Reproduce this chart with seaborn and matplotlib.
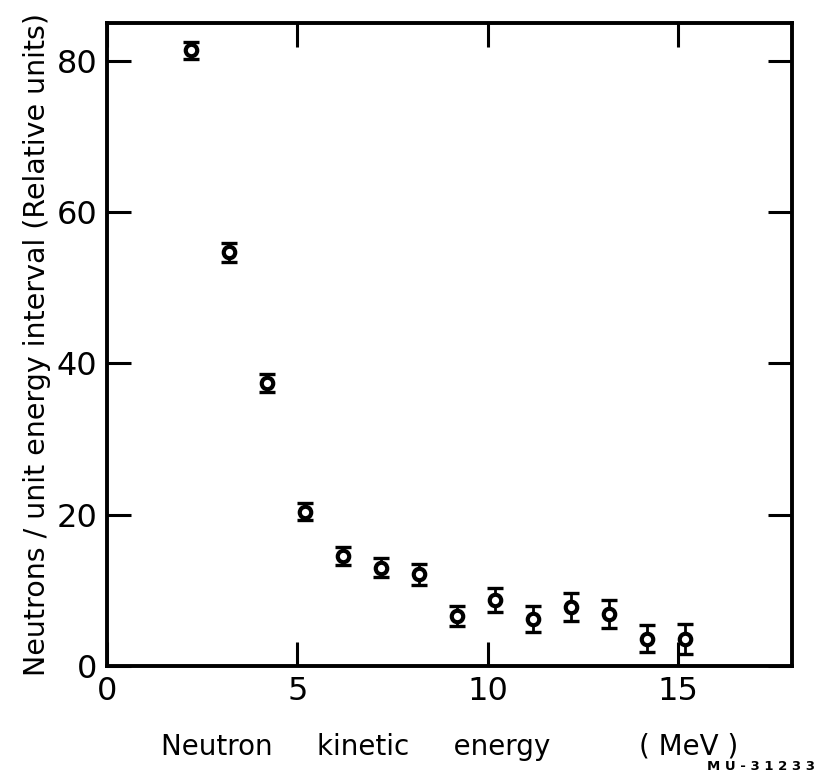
import matplotlib
matplotlib.use("Agg")
import matplotlib.pyplot as plt
import seaborn as sns
import pandas as pd

energy = [2.2, 3.2, 4.2, 5.2, 6.2, 7.2, 8.2, 9.2, 10.2, 11.2, 12.2, 13.2, 14.2, 15.2]
neutrons = [81.4, 54.7, 37.4, 20.4, 14.5, 13.0, 12.1, 6.6, 8.7, 6.2, 7.8, 6.9, 3.6, 3.6]
errors = [1.1, 1.25, 1.2, 1.1, 1.2, 1.3, 1.4, 1.35, 1.6, 1.7, 1.8, 1.85, 1.8, 2.0]
xticks = [0, 5, 10, 15]
yticks = [0, 20, 40, 60, 80]

df = pd.DataFrame({"energy": energy, "neutrons": neutrons, "err": errors})

sns.set_theme(style="ticks")
plt.rcParams['font.family'] = ['DejaVu Sans']

fig = plt.figure(figsize=(8.21, 7.79), dpi=100)
ax = fig.add_axes([0.1303, 0.1451, 0.8344, 0.8254])

ax.errorbar(df["energy"], df["neutrons"], yerr=df["err"], fmt="none",
            ecolor="black", elinewidth=2.0, capsize=5.5, capthick=2.4, zorder=2)
sns.scatterplot(data=df, x="energy", y="neutrons", ax=ax, marker="o", s=68,
                facecolor="white", edgecolor="black", linewidth=3.0, zorder=3,
                legend=False)

ax.set_xlim(0, 18)
ax.set_ylim(0, 85)
ax.set_xticks(xticks)
ax.set_yticks(yticks)
ax.set_xticklabels([str(t) for t in xticks], fontsize=23)
ax.set_yticklabels([str(t) for t in yticks], fontsize=23)
ax.tick_params(direction="in", length=17, width=2.2, top=True, right=True,
               labelcolor="black", color="black", pad=7)
for sp in ax.spines.values():
    sp.set_linewidth(2.8)
    sp.set_color("black")

ax.set_xlabel("Neutron     kinetic     energy          ( MeV )", fontsize=20,
              labelpad=19, color="black")
ax.set_ylabel("Neutrons / unit energy interval (Relative units)", fontsize=20.5,
              labelpad=4, color="black")

fig.text(0.993, 0.008, "M U - 3 1 2 3 3", ha="right", va="bottom", fontsize=9.5,
         fontweight="bold", color="black")

fig.savefig("out.png", dpi=100)
